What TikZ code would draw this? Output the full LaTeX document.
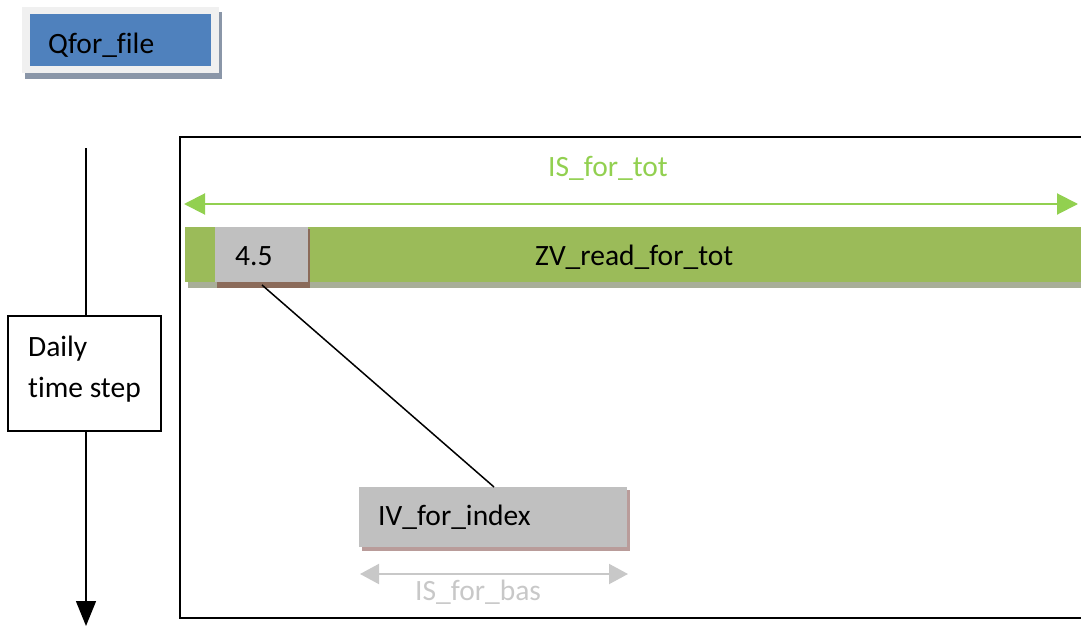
\documentclass[tikz,border=0pt]{standalone}
\usepackage{fontspec}
\setmainfont[Ligatures=NoCommon]{Carlito}
\usetikzlibrary{arrows.meta}
\definecolor{qblue}{HTML}{4F81BD}
\definecolor{qframe}{HTML}{F0F0F0}
\definecolor{qshadow}{HTML}{8A96A8}
\definecolor{lgreen}{HTML}{92D050}
\definecolor{bgreen}{HTML}{9BBB59}
\definecolor{gshadow}{HTML}{A8AE98}
\definecolor{boxgray}{HTML}{C0C0C0}
\definecolor{brownsh}{HTML}{8B6B5A}
\definecolor{pinksh}{HTML}{B99C9A}
\definecolor{lgray}{HTML}{C8C8C8}
\tikzset{
  lbl/.style={inner sep=0pt, anchor=base west, font=\fontsize{29.5}{35}\selectfont},
  greenarrow/.style={draw=lgreen, line width=2pt, {Triangle[length=21pt,width=21pt]}-{Triangle[length=21pt,width=21pt]}, lgreen},
  grayarrow/.style={draw=lgray, line width=2pt, {Triangle[length=19pt,width=20pt]}-{Triangle[length=19pt,width=20pt]}, lgray},
}
\begin{document}
\begin{tikzpicture}[x=1pt,y=-1pt]
\useasboundingbox (0,0) rectangle (1081,626);
% Qfor_file
\fill[qshadow] (25,12) rectangle (222,79);
\fill[qframe] (22,7) rectangle (219,73);
\fill[qblue] (30,14) rectangle (211,66);
\node[lbl] (qfor) at (48,53) {Qfor\_file};
% main frame
\draw[line width=1.5pt] (180,137) rectangle (1090,618);
\node[inner sep=0pt] (frame) at (630,377) {};
% IS_for_tot
\node[lbl, text=lgreen] (istot) at (548,176) {IS\_for\_tot};
\coordinate (gl) at (184,204);
\coordinate (gr) at (1078,204);
\draw[greenarrow] (gl) -- (gr);
% green bar
\fill[gshadow] (188,282) rectangle (1085,288);
\fill[bgreen] (185,227) rectangle (1085,282);
\node[lbl] (zv) at (535,265) {ZV\_read\_for\_tot};
% 4.5 box
\fill[brownsh] (217,229) rectangle (310,288);
\fill[boxgray] (215,227) rectangle (308,282);
\node[inner sep=0pt] (fourfive) at (261.5,254.5) {};
\node[lbl] (fourfivetxt) at (235,265) {4.5};
% IV_for_index box
\fill[pinksh] (362,490) rectangle (630,551);
\fill[boxgray] (359,487) rectangle (627,547);
\node[inner sep=0pt] (ivbox) at (493,517) {};
\node[lbl] (iv) at (378,525) {IV\_for\_index};
\coordinate (lineA) at (262,285);
\coordinate (lineB) at (494,487);
\draw[line width=1.5pt] (lineA) -- (lineB);
% IS_for_bas
\coordinate (bl) at (360,574);
\coordinate (br) at (628,574);
\draw[grayarrow] (bl) -- (br);
\node[lbl, text=lgray] (isbas) at (415,600) {IS\_for\_bas};
% Daily time step
\draw[line width=1.2pt, fill=white] (8,316) rectangle (161,431);
\node[inner sep=0pt] (daily) at (84.5,373.5) {};
\node[lbl] (dailytxt) at (28,356) {Daily};
\node[lbl] (steptxt) at (28,397) {time step};
\coordinate (vtop) at (86,148);
\coordinate (vboxtop) at (86,316);
\coordinate (vboxbot) at (86,431);
\coordinate (vend) at (86,626);
\draw[line width=1.5pt] (vtop) -- (vboxtop);
\draw[line width=1.5pt, -{Triangle[length=25pt,width=20pt]}] (vboxbot) -- (vend);
\end{tikzpicture}
\end{document}
